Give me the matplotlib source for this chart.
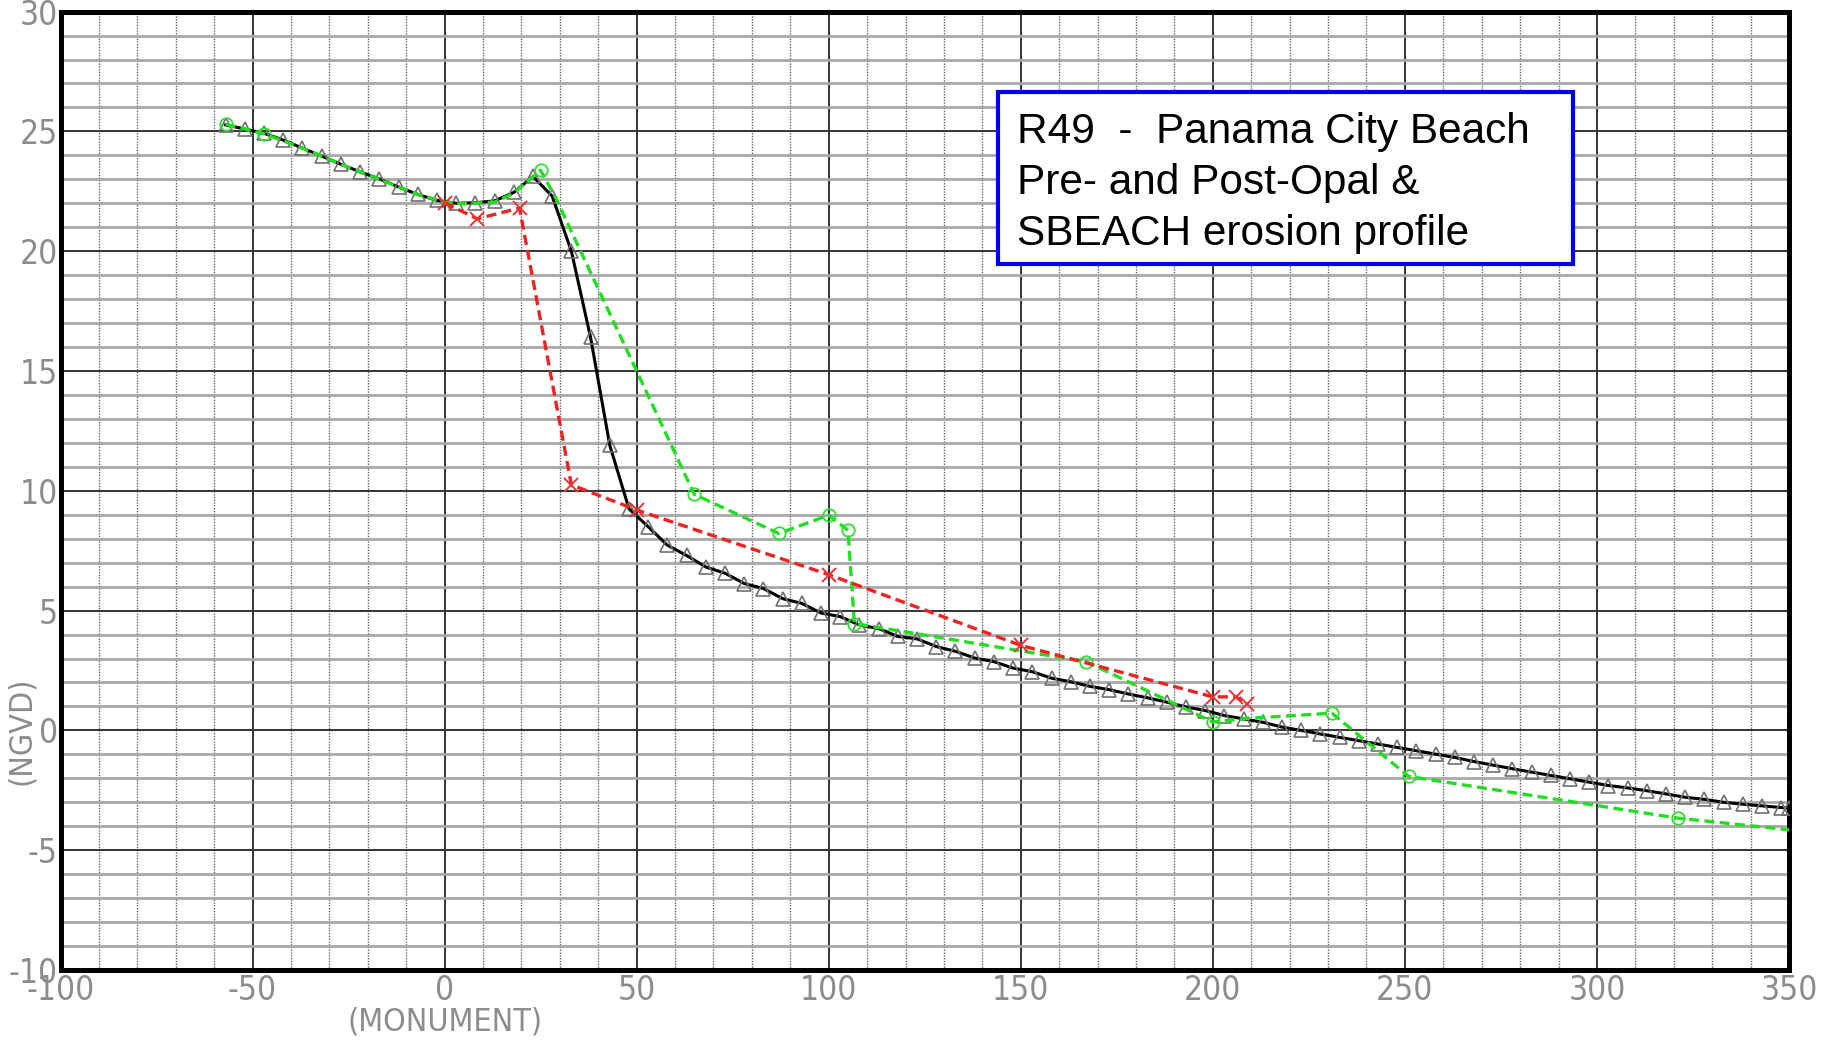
import matplotlib
matplotlib.use("Agg")
import numpy as np
from matplotlib import pyplot as plt
from matplotlib import font_manager
from matplotlib.font_manager import FontProperties
from matplotlib.patches import Rectangle

# pre-Opal profile (black, triangles)
pre_x = [-57, -52, -47, -42, -37, -32, -27, -22, -17, -12,
         -7, -2, 3, 8, 13, 18, 23, 28, 33, 38,
         43, 48, 53, 58, 63, 68, 73, 78, 83, 88,
         93, 98, 103, 108, 113, 118, 123, 128, 133, 138,
         143, 148, 153, 158, 163, 168, 173, 178, 183, 188,
         193, 198, 203, 208, 213, 218, 223, 228, 233, 238,
         243, 248, 253, 258, 263, 268, 273, 278, 283, 288,
         293, 298, 303, 308, 313, 318, 323, 328, 333, 338,
         343, 348, 350]
pre_y = [25.27, 25.1, 24.92, 24.64, 24.3, 23.97, 23.63, 23.31, 23.02, 22.68,
         22.37, 22.12, 22.0, 22.02, 22.1, 22.45, 23.12, 22.3, 20.0, 16.4,
         11.9, 9.25, 8.5, 7.73, 7.3, 6.82, 6.56, 6.13, 5.92, 5.5,
         5.3, 4.9, 4.75, 4.4, 4.25, 3.92, 3.82, 3.5, 3.3, 3.02,
         2.87, 2.6, 2.45, 2.18, 2.03, 1.84, 1.7, 1.52, 1.36, 1.18,
         0.98, 0.83, 0.62, 0.48, 0.34, 0.14, 0.0, -0.15, -0.29, -0.43,
         -0.57, -0.71, -0.85, -0.99, -1.13, -1.3, -1.45, -1.6, -1.74, -1.88,
         -2.02, -2.16, -2.3, -2.4, -2.52, -2.65, -2.79, -2.88, -3.0, -3.08,
         -3.15, -3.22, -3.24]

# post-Opal profile (green, circles)
post_x = [-57, -47, -37, -27, -17, -7, 0, 5, 13, 18, 25, 29,
          65, 87, 100, 105, 106.7, 167, 200, 209, 231, 251, 321, 350]
post_y = [25.3, 24.9, 24.3, 23.63, 23.0, 22.37, 22.05, 21.98, 22.05, 22.42, 23.38, 22.2,
          9.85, 8.22, 8.98, 8.35, 4.46, 2.87, 0.35, 0.5, 0.72, -1.92, -3.66, -4.15]
post_marked = [0, 1, 10, 12, 13, 14, 15, 16, 17, 18, 20, 21, 22]

# SBEACH erosion profile (red, x)
sb_x = [0, 8.5, 19.5, 33, 50, 100, 150, 200, 206, 209]
sb_y = [22.02, 21.35, 21.8, 10.25, 9.2, 6.5, 3.55, 1.4, 1.4, 1.1]

x_ticks = [-100, -50, 0, 50, 100, 150, 200, 250, 300, 350]
y_ticks = [-10, -5, 0, 5, 10, 15, 20, 25, 30]

title_lines = ["R49  -  Panama City Beach",
               "Pre- and Post-Opal &",
               "SBEACH erosion profile"]

plt.rcParams['axes.unicode_minus'] = False


def narrow_font(size):
    # look for a narrow / condensed face for the CAD style labels
    fonts = font_manager.fontManager.ttflist
    for f in fonts:
        if f.name == 'Liberation Sans Narrow' and f.weight in (400, 'normal') and f.style == 'normal':
            return FontProperties(fname=f.fname, size=size)
    for f in fonts:
        fn = f.fname.lower()
        if ('condensed' in fn or 'narrow' in fn) and 'bold' not in fn and 'oblique' not in fn \
                and 'italic' not in fn and 'mono' not in fn and 'serif' not in fn:
            return FontProperties(fname=f.fname, size=size)
    return FontProperties(family='DejaVu Sans', size=size * 0.82)


W, H = 1826, 1044
fig = plt.figure(figsize=(W / 100, H / 100), dpi=100)
ax = fig.add_axes([60.5 / W, 1 - 970 / H, (1789 - 60.5) / W, (970 - 11.6) / H])

ax.set_xlim(-100, 350)
ax.set_ylim(-10, 30)
ax.set_xticks(x_ticks)
ax.set_yticks(y_ticks)
ax.set_xticks(np.arange(-100, 351, 10), minor=True)
ax.set_yticks(np.arange(-10, 31, 1), minor=True)

ax.yaxis.grid(True, which='minor', color='#a8a8a8', lw=2.0, ls='-', zorder=0)
ax.xaxis.grid(True, which='minor', color='#666666', lw=1.0, ls=(0, (1, 1)), zorder=0)
ax.grid(True, which='major', color='#333333', lw=1.4, ls='-', zorder=0)
ax.set_axisbelow(True)

for sp in ax.spines.values():
    sp.set_linewidth(3.6)
    sp.set_color('black')

tick_fp = narrow_font(24)
label_fp = narrow_font(23)

ax.tick_params(which='both', length=0)
ax.tick_params(axis='y', pad=2)
ax.tick_params(axis='x', pad=3)
for lab in ax.get_xticklabels() + ax.get_yticklabels():
    lab.set_fontproperties(tick_fp)
    lab.set_color('#8c8c8c')

ax.plot(pre_x, pre_y, color='black', lw=2.2, marker='^', ms=10,
        mfc='none', mec='#707070', mew=1.2, zorder=4)
ax.plot(post_x, post_y, color='#22dd22', lw=2.4, ls=(0, (3, 1.6)),
        marker='o', ms=9, mfc='none', mec='#33dd33', mew=1.3,
        markevery=post_marked, zorder=5)
ax.plot(sb_x, sb_y, color='#ee2222', lw=2.4, ls=(0, (3, 1.6)),
        marker='x', ms=10, mec='#ee3333', mew=1.4, zorder=6)

trans = ax.get_xaxis_transform()
ax.text(0, -0.054, "(MONUMENT)", transform=trans, ha='center', va='center',
        fontproperties=label_fp, color='#8c8c8c', clip_on=False)
ax.text(-0.0223, 0, "(NGVD)", transform=ax.get_yaxis_transform(), rotation=90,
        ha='center', va='center', fontproperties=label_fp, color='#8c8c8c',
        clip_on=False)

# title box
box = Rectangle((998 / W, 1 - 264 / H), 575 / W, 172 / H, transform=fig.transFigure,
                facecolor='white', edgecolor='#0000ee', lw=3, zorder=10, clip_on=False)
ax.add_patch(box)
for i, line in enumerate(title_lines):
    base = [143, 194, 245][i]
    fig.text(1017 / W, 1 - base / H, line, family=['Liberation Sans', 'DejaVu Sans'],
             fontsize=30.5, color='black', ha='left', va='baseline', zorder=11)

fig.savefig('out.png', dpi=100)
